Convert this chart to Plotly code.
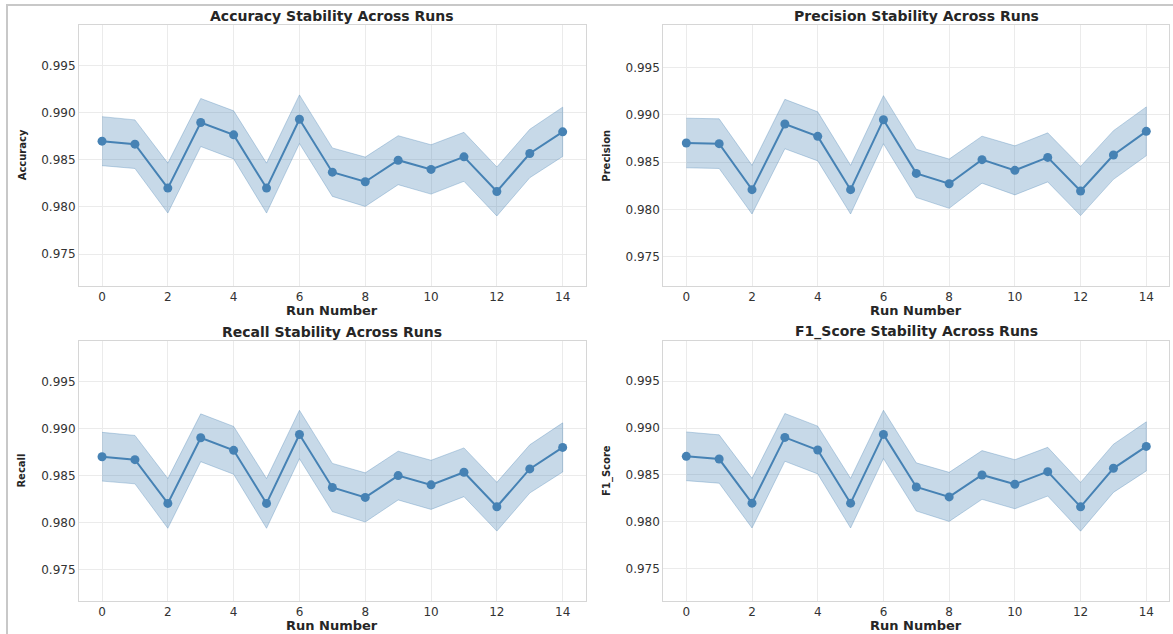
import plotly.graph_objects as go

# Run indices
runs = list(range(15))

# Mean score per run
accuracy_mean = [0.98698, 0.98666, 0.98200, 0.98896, 0.98765, 0.98200, 0.98931, 0.98369,
                 0.98267, 0.98496, 0.98398, 0.98532, 0.98164, 0.98567, 0.98797]
precision_mean = [0.98701, 0.98694, 0.98208, 0.98901, 0.98771, 0.98208, 0.98947, 0.98380,
                  0.98271, 0.98525, 0.98412, 0.98549, 0.98194, 0.98574, 0.98824]
recall_mean = [0.98701, 0.98670, 0.98203, 0.98903, 0.98769, 0.98203, 0.98938, 0.98373,
               0.98267, 0.98500, 0.98401, 0.98535, 0.98168, 0.98571, 0.98800]
f1_mean = [0.98699, 0.98670, 0.98199, 0.98901, 0.98766, 0.98199, 0.98933, 0.98372,
           0.98266, 0.98500, 0.98401, 0.98535, 0.98160, 0.98571, 0.98805]

# Standard deviation per run (shaded band = mean +/- std)
accuracy_std = [0.00260, 0.00258, 0.00265, 0.00255, 0.00255, 0.00265, 0.00258, 0.00257,
                0.00262, 0.00260, 0.00262, 0.00260, 0.00260, 0.00257, 0.00262]
precision_std = [0.00262, 0.00262, 0.00257, 0.00261, 0.00259, 0.00257, 0.00254, 0.00255,
                 0.00260, 0.00248, 0.00259, 0.00259, 0.00260, 0.00257, 0.00258]
recall_std = [0.00260, 0.00258, 0.00265, 0.00255, 0.00255, 0.00265, 0.00258, 0.00257,
              0.00262, 0.00260, 0.00262, 0.00260, 0.00260, 0.00257, 0.00262]
f1_std = [0.00260, 0.00258, 0.00265, 0.00255, 0.00255, 0.00265, 0.00258, 0.00257,
          0.00262, 0.00260, 0.00262, 0.00260, 0.00260, 0.00257, 0.00262]

metric_names = ["Accuracy", "Precision", "Recall", "F1_Score"]
metric_means = [accuracy_mean, precision_mean, recall_mean, f1_mean]
metric_stds = [accuracy_std, precision_std, recall_std, f1_std]

x_ticks = [0, 2, 4, 6, 8, 10, 12, 14]
y_ticks = [0.975, 0.980, 0.985, 0.990, 0.995]

W, H = 1173, 634
LINE = "#4682B4"
BAND = "rgba(70,130,180,0.30)"
BAND_EDGE = "rgba(70,130,180,0.32)"
FONT = "DejaVu Sans"

# Panel boxes in pixels: (left, right, top, bottom)
boxes = [
    (79, 585.7, 25, 285.7),
    (663.3, 1169.3, 25, 285.7),
    (79, 585.7, 340.7, 600.5),
    (663.3, 1169.3, 340.7, 600.5),
]

fig = go.Figure()
annotations = []

for i, (name, mean, std) in enumerate(zip(metric_names, metric_means, metric_stds)):
    xa = "x" if i == 0 else f"x{i + 1}"
    ya = "y" if i == 0 else f"y{i + 1}"
    upper = [m + s for m, s in zip(mean, std)]
    lower = [m - s for m, s in zip(mean, std)]

    fig.add_trace(go.Scatter(
        x=runs + runs[::-1], y=upper + lower[::-1],
        fill="toself", fillcolor=BAND, mode="lines",
        line=dict(color=BAND_EDGE, width=1),
        hoverinfo="skip", showlegend=False, xaxis=xa, yaxis=ya,
    ))
    fig.add_trace(go.Scatter(
        x=runs, y=mean, mode="lines+markers",
        line=dict(color=LINE, width=2),
        marker=dict(color=LINE, size=9),
        showlegend=False, xaxis=xa, yaxis=ya, name=name,
    ))

    l, r, t, b = boxes[i]
    xdom = [l / W, r / W]
    ydom = [1 - b / H, 1 - t / H]
    lo = min(mean) - 0.01
    hi = max(mean) + 0.01
    axis_common = dict(
        showline=True, linecolor="#d6d6d6", linewidth=1, mirror=True,
        showgrid=True, gridcolor="#ebebeb", gridwidth=1,
        zeroline=False, ticks="",
        tickfont=dict(family=FONT, size=12, color="#333333"),
        automargin=False,
    )
    fig.update_layout(**{
        ("xaxis" if i == 0 else f"xaxis{i + 1}"): dict(
            domain=xdom, anchor=ya, range=[-0.7, 14.7],
            tickmode="array", tickvals=x_ticks, **axis_common),
        ("yaxis" if i == 0 else f"yaxis{i + 1}"): dict(
            domain=ydom, anchor=xa, range=[lo, hi],
            tickmode="array", tickvals=y_ticks,
            ticktext=[f"{v:.3f}" for v in y_ticks], **axis_common),
    })

    cx = (l + r) / 2 / W
    # Panel title
    annotations.append(dict(
        text=f"{name} Stability Across Runs", x=cx, y=1 - (t - 9) / H,
        xref="paper", yref="paper", showarrow=False, xanchor="center", yanchor="middle",
        font=dict(family=FONT, size=14, color="#262626", weight="bold")))
    # X-axis title
    annotations.append(dict(
        text="Run Number", x=cx, y=1 - (b + 24.5) / H,
        xref="paper", yref="paper", showarrow=False, xanchor="center", yanchor="middle",
        font=dict(family=FONT, size=13, color="#262626", weight="bold")))
    # Y-axis title
    annotations.append(dict(
        text=name, x=(l - 57) / W, y=1 - (t + b) / 2 / H,
        xref="paper", yref="paper", showarrow=False, xanchor="center", yanchor="middle",
        textangle=-90,
        font=dict(family=FONT, size=10, color="#262626", weight="bold")))

# Outer frame lines along the top and left edges
shapes = [
    dict(type="line", xref="paper", yref="paper", x0=6 / W, x1=1, y0=1 - 5 / H, y1=1 - 5 / H,
         line=dict(color="#c8c8c8", width=2)),
    dict(type="line", xref="paper", yref="paper", x0=7 / W, x1=7 / W, y0=0, y1=1 - 5 / H,
         line=dict(color="#c8c8c8", width=2)),
]

fig.update_layout(
    width=W, height=H,
    margin=dict(l=0, r=0, t=0, b=0),
    paper_bgcolor="white", plot_bgcolor="white",
    annotations=annotations, shapes=shapes,
    font=dict(family=FONT),
)

fig.write_html("out.html")
